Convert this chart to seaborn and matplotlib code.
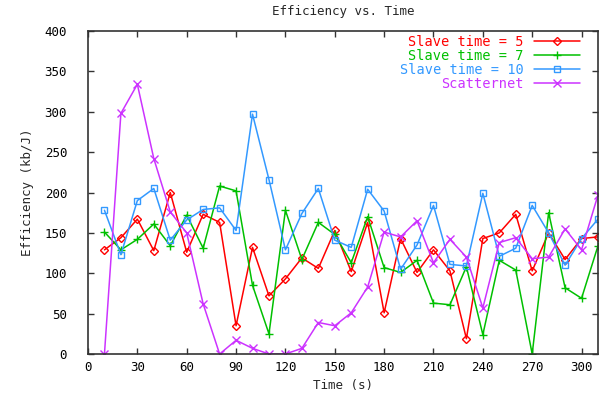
import numpy as np
import pandas as pd
import matplotlib
matplotlib.use("Agg")
import matplotlib.pyplot as plt
import seaborn as sns

time = list(range(10, 320, 10))
slave5 = [129, 144, 167, 128, 200, 126, 173, 163, 35, 132, 72, 93, 119, 106, 153,
          102, 163, 51, 143, 101, 129, 103, 19, 143, 150, 173, 103, 150, 117, 143, 145]
slave7 = [151, 129, 142, 161, 134, 172, 131, 208, 202, 85, 25, 178, 117, 163, 148,
          113, 170, 107, 101, 116, 63, 61, 108, 24, 116, 104, 0, 175, 82, 69, 134]
slave10 = [178, 123, 190, 205, 141, 166, 179, 181, 153, 297, 216, 129, 174, 205, 141,
           132, 204, 177, 105, 135, 184, 111, 109, 199, 121, 131, 184, 150, 110, 143, 167]
scatter = [0, 298, 334, 242, 176, 150, 62, 0, 17, 7, 0, 0, 7, 39, 35,
           51, 83, 151, 145, 165, 113, 142, 120, 57, 138, 144, 118, 120, 155, 129, 197]

labels = ["Slave time = 5", "Slave time = 7", "Slave time = 10", "Scatternet"]
colors = ["#ff0000", "#00c000", "#3399ff", "#cc33ff"]
markers = ["D", "+", "s", "x"]
series = [slave5, slave7, slave10, scatter]

sns.set_style("ticks")
plt.rcParams["font.family"] = ["DejaVu Sans Mono", "DejaVu Sans"]

fig = plt.figure(figsize=(6.1, 3.97), dpi=100)
ax = fig.add_axes([88 / 610, 1 - 354 / 397, 510 / 610, 323 / 397])

for lab, col, mk, vals in zip(labels, colors, markers, series):
    df = pd.DataFrame({"Time": time, "Eff": vals})
    kw = dict(markeredgewidth=1.0, markeredgecolor=col)
    if mk in ("D", "s"):
        kw["markerfacecolor"] = "none"
        kw["markersize"] = 5 if mk == "s" else 4
    else:
        kw["markersize"] = 6
    sns.lineplot(data=df, x="Time", y="Eff", ax=ax, color=col, marker=mk,
                 linewidth=1.1, label=lab, **kw)

ax.set_xlim(0, 310)
ax.set_ylim(0, 400)
ax.set_xticks(range(0, 301, 30))
ax.set_yticks(range(0, 401, 50))
ax.tick_params(direction="in", length=4, width=1, top=True, right=True,
               labelsize=9, colors="#333333", labelcolor="black", pad=5)
ax.tick_params(axis="y", pad=15)
for s in ax.spines.values():
    s.set_color("#333333")
    s.set_linewidth(1.2)

ax.set_xlabel("Time (s)", fontsize=9, labelpad=4)
ax.set_ylabel("Efficiency (kb/J)", fontsize=9, labelpad=8)
fig.text(343 / 610, 1 - 12 / 397, "Efficiency vs. Time", ha="center", va="center", fontsize=9)

leg = ax.legend(loc="upper right", bbox_to_anchor=((580 - 88) / 510, (354 - 35) / 323),
                frameon=False, markerfirst=False, labelcolor="linecolor",
                fontsize=9.8, handlelength=3.4, borderaxespad=0, borderpad=0,
                labelspacing=0.0, handletextpad=0.75)

fig.savefig("out.png", dpi=100)
